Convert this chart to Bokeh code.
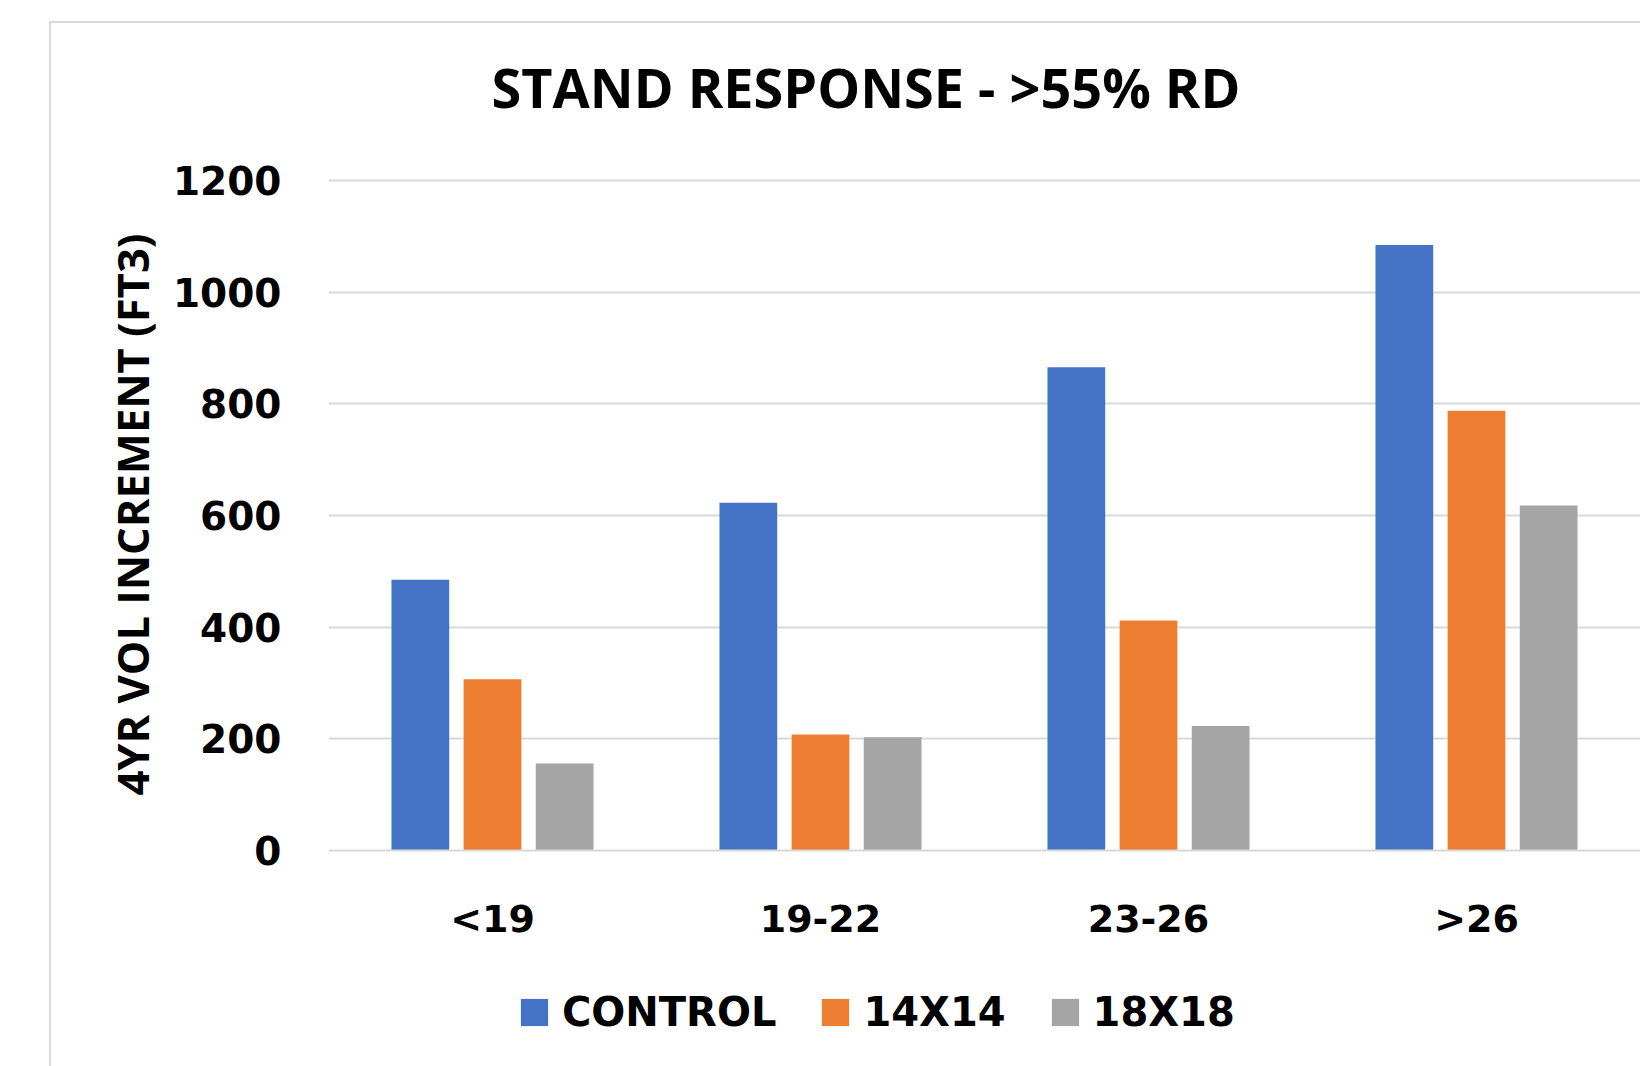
from bokeh.plotting import figure
from bokeh.layouts import column
from bokeh.models import (ColumnDataSource, FactorRange, Range1d, FixedTicker,
                          Legend, LegendItem, Title)
from bokeh.transform import dodge
from bokeh.embed import file_html
from bokeh.resources import INLINE

# Diameter classes and 4-year volume increment per treatment
classes = ["<19", "19-22", "23-26", ">26"]
control = [485, 623, 866, 1085]
spacing_14 = [307, 208, 412, 788]
spacing_18 = [156, 203, 223, 618]
series_names = ["CONTROL", "14X14", "18X18"]
y_ticks = [0, 200, 400, 600, 800, 1000, 1200]

title_text = "STAND RESPONSE - >55% RD"
y_label = "4YR VOL INCREMENT (FT3)"

colors = ["#4472C4", "#ED7D31", "#A5A5A5"]
grid_color = "#D9D9D9"

source = ColumnDataSource(dict(cls=classes, control=control,
                               s14=spacing_14, s18=spacing_18))
fields = ["control", "s14", "s18"]
offsets = [-0.22, 0.0, 0.22]

# light-grey chart-area border (left and top edges) painted as CSS
# background behind transparent canvases
chart_border_top = {
    "background-image": ("linear-gradient(#D9D9D9, #D9D9D9), "
                         "linear-gradient(#D9D9D9, #D9D9D9)"),
    "background-size": "2px 100%, 100% 2px",
    "background-position": "49px 21px, 49px 21px",
    "background-repeat": "no-repeat",
    "background-color": "white",
}
chart_border_left = {
    "background-image": "linear-gradient(#D9D9D9, #D9D9D9)",
    "background-size": "2px 100%",
    "background-position": "49px 0px",
    "background-repeat": "no-repeat",
    "background-color": "white",
}

MAIN_H = 960
LEG_H = 1066 - MAIN_H

p = figure(x_range=FactorRange(factors=classes), y_range=Range1d(0, 1204),
           width=1640, height=MAIN_H, output_backend="svg", toolbar_location=None,
           min_border_left=328, min_border_right=0,
           min_border_top=178, min_border_bottom=MAIN_H - 850,
           title=None, styles=chart_border_top)

p.outline_line_color = None
p.background_fill_color = None
p.border_fill_color = None

for field, off, col in zip(fields, offsets, colors):
    p.vbar(x=dodge("cls", off, range=p.x_range), top=field, bottom=0,
           width=0.176, source=source, fill_color=col, line_color=None)

# blank strip that keeps the heading clear of the plot area
p.add_layout(Title(text=" ", text_font_size="1px", standoff=47), "above")
# heading
p.add_layout(Title(text=title_text, text_font="Open Sans",
                   text_font_style="bold", text_font_size="54px",
                   text_color="black", align="left", offset=163,
                   standoff=10), "above")

# y axis
p.yaxis.ticker = FixedTicker(ticks=y_ticks)
p.yaxis.axis_line_color = None
p.yaxis.major_tick_line_color = None
p.yaxis.minor_tick_line_color = None
p.yaxis.major_label_text_font = "DejaVu Sans"
p.yaxis.major_label_text_font_style = "bold"
p.yaxis.major_label_text_font_size = "39px"
p.yaxis.major_label_text_color = "black"
p.yaxis.major_label_standoff = 41
p.yaxis.axis_label = y_label
p.yaxis.axis_label_text_font = "Open Sans"
p.yaxis.axis_label_text_font_style = "bold"
p.yaxis.axis_label_text_font_size = "43.5px"
p.yaxis.axis_label_text_color = "black"
p.yaxis.axis_label_standoff = 8

# x axis
p.xaxis.axis_line_color = grid_color
p.xaxis.axis_line_width = 2
p.xaxis.major_tick_line_color = None
p.xaxis.minor_tick_line_color = None
p.xaxis.major_label_text_font = "DejaVu Sans"
p.xaxis.major_label_text_font_style = "bold"
p.xaxis.major_label_text_font_size = "38px"
p.xaxis.major_label_text_color = "black"
p.xaxis.major_label_standoff = 40

p.xgrid.grid_line_color = None
p.ygrid.grid_line_color = grid_color
p.ygrid.grid_line_width = 2

# legend strip below the chart; its bars share the data but sit out of view
lg = figure(x_range=FactorRange(factors=classes), y_range=Range1d(5000, 5001),
            width=1640, height=LEG_H, output_backend="svg", toolbar_location=None,
            min_border=0, styles=chart_border_left)
lg.outline_line_color = None
lg.background_fill_color = None
lg.border_fill_color = None
lg.axis.visible = False
lg.grid.visible = False

leg_renderers = []
for field, off, col in zip(fields, offsets, colors):
    leg_renderers.append(
        lg.vbar(x=dodge("cls", off, range=lg.x_range), top=field, bottom=0,
                width=0.176, source=source, fill_color=col, line_color=None))

legend = Legend(items=[LegendItem(label=n, renderers=[r])
                       for n, r in zip(series_names, leg_renderers)],
                orientation="horizontal", location=(189, 31),
                glyph_width=34, glyph_height=34, label_standoff=11,
                spacing=42, padding=0, margin=0,
                border_line_color=None, background_fill_alpha=0,
                label_text_font="DejaVu Sans", label_text_font_style="bold",
                label_text_font_size="40px", label_text_color="black")
lg.add_layout(legend, "center")

page = column(p, lg, spacing=0)
open("out.html", "w").write(file_html(page, INLINE))
